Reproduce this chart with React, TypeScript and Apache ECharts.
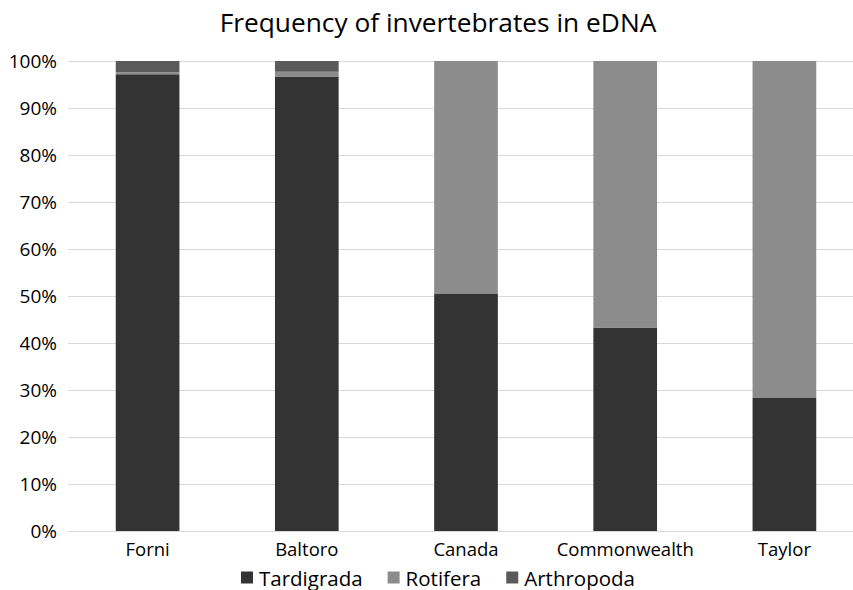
import React, { useEffect, useRef } from "react";
import * as echarts from "echarts";

const categories = ["Forni", "Baltoro", "Canada", "Commonwealth", "Taylor"];
const tardigrada = [97.2, 96.7, 50.4, 43.3, 28.3];
const rotifera = [0.4, 1.0, 49.6, 56.7, 71.7];
const arthropoda = [2.4, 2.3, 0, 0, 0];
const yTicks = [0, 10, 20, 30, 40, 50, 60, 70, 80, 90, 100];

const FONT = "'Open Sans', 'Noto Sans', sans-serif";

export default function App() {
  const ref = useRef<HTMLDivElement>(null);
  useEffect(() => {
    if (!ref.current) return;
    const chart = echarts.init(ref.current, undefined, { renderer: "svg" });
    const mk = (name: string, data: number[], color: string) => ({
      name,
      type: "bar",
      stack: "total",
      data,
      barWidth: "40%",
      itemStyle: { color },
      emphasis: { disabled: true },
    });
    chart.setOption({
      animation: false,
      backgroundColor: "#ffffff",
      title: {
        text: "Frequency of invertebrates in eDNA",
        left: 433,
        top: 4,
        textAlign: "center",
        textStyle: { fontFamily: FONT, fontSize: 26.3, fontWeight: "normal", color: "#000" },
      },
      legend: {
        bottom: -3,
        left: 236,
        itemWidth: 12,
        itemHeight: 12,
        itemGap: 25,
        icon: "rect",
        textStyle: { fontFamily: FONT, fontSize: 20.5, color: "#000", padding: [0, 0, 0, 1] },
        data: ["Tardigrada", "Rotifera", "Arthropoda"],
      },
      grid: { left: 68, right: 8, top: 61, bottom: 59, containLabel: false },
      xAxis: {
        type: "category",
        data: categories,
        axisLine: { lineStyle: { color: "#d9d9d9", width: 1 } },
        axisTick: { show: false },
        axisLabel: { fontFamily: FONT, fontSize: 18.5, color: "#000", margin: 8, interval: 0 },
      },
      yAxis: {
        type: "value",
        min: yTicks[0],
        max: yTicks[yTicks.length - 1],
        interval: 10,
        axisLine: { show: false },
        axisTick: { show: false },
        splitLine: { lineStyle: { color: "#d9d9d9", width: 1 } },
        axisLabel: { fontFamily: FONT, fontSize: 19, color: "#000", margin: 11, formatter: "{value}%" },
      },
      series: [
        mk("Tardigrada", tardigrada, "#333333"),
        mk("Rotifera", rotifera, "#8c8c8c"),
        mk("Arthropoda", arthropoda, "#5a5a5a"),
      ],
    });
    return () => chart.dispose();
  }, []);
  return (
    <div style={{ width: 853, height: 590, position: "absolute", left: 0, top: 0, overflow: "hidden" }}>
      <div ref={ref} style={{ width: 872, height: 590 }} />
    </div>
  );
}
